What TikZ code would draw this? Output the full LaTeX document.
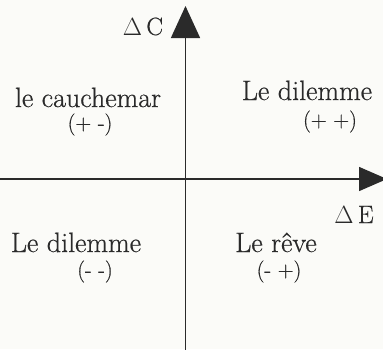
\documentclass[tikz,border=0pt]{standalone}
\usepackage{fontspec}
\setmainfont{Latin Modern Roman}[FakeBold=0.6]
\usetikzlibrary{arrows.meta}
\definecolor{ink}{HTML}{2A2A2A}
\definecolor{paper}{HTML}{FBFBF8}
\begin{document}
\begin{tikzpicture}[x=1pt,y=-1pt,
  lbl/.style={font=\fontsize{28}{32}\selectfont, text=ink, inner sep=0pt, anchor=base},
  sgn/.style={font=\fontsize{22}{26}\selectfont, text=ink, inner sep=0pt, anchor=base},
  axlbl/.style={font=\fontsize{25}{29}\selectfont, text=ink, inner sep=0pt, anchor=base},
  vaxis/.style={draw=ink, line width=1.5pt, -{Triangle[length=32pt,width=29pt]}},
  haxis/.style={draw=ink, line width=1.5pt, -{Triangle[length=28pt,width=24pt]}}]
\useasboundingbox (0,0) rectangle (383,349);
\fill[paper] (0,0) rectangle (383,349);
\clip (0,0) rectangle (383,349);
\coordinate (vb) at (185.5,352);
\coordinate (vt) at (185.5,6);
\coordinate (hl) at (-3,179);
\coordinate (hr) at (387,179);
\draw[vaxis] (vb) -- (vt);
\draw[haxis] (hl) -- (hr);
\node[axlbl] (dc) at (143,35) {$\Delta$\,C};
\node[axlbl] (de) at (354,223) {$\Delta$\,E};
\node[lbl] (q2) at (88,107) {le cauchemar};
\node[sgn] (q2s) at (90,130) {(+ -)};
\node[lbl] (q1) at (307,100) {Le dilemme};
\node[sgn] (q1s) at (330,127) {(+ +)};
\node[lbl] (q3) at (76,252) {Le dilemme};
\node[sgn] (q3s) at (95,277) {(- -)};
\node[lbl] (q4) at (276,252) {Le rêve};
\node[sgn] (q4s) at (279,277) {(- +)};
\end{tikzpicture}
\end{document}
